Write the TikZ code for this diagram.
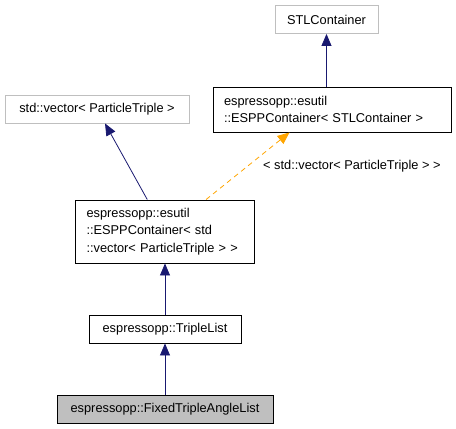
\documentclass[tikz,border=0pt]{standalone}
\usepackage{fontspec}
\setmainfont{Liberation Sans}
\usetikzlibrary{arrows.meta,calc}
\definecolor{navyarr}{HTML}{191970}
\definecolor{grayb}{HTML}{BFBFBF}
\definecolor{orangearr}{HTML}{FFA500}
\tikzset{
  box/.style={draw=black, line width=0.9pt, inner sep=0pt, font=\fontsize{12.8}{17.3}\selectfont},
  graybox/.style={box, draw=grayb},
  inh/.style={draw=navyarr, line width=0.8pt, -{Triangle[length=12pt,width=10pt]}},
  tmpl/.style={draw=orangearr, line width=0.8pt, dash pattern=on 5pt off 4pt, -{Triangle[length=12pt,width=10pt]}},
}
\begin{document}
\begin{tikzpicture}[x=1pt,y=-1pt]
\useasboundingbox (0,0) rectangle (456,429);
\node[graybox, minimum width=103pt, minimum height=28pt] (stl) at (326.5,19.5) {STLContainer};
\node[box, minimum height=45pt, text width=216pt, align=left, inner xsep=11pt] (espp1) at (332,109.5) {espressopp::esutil\\::ESPPContainer< STLContainer >};
\node[graybox, minimum width=184pt, minimum height=28pt] (vec) at (97,109) {std::vector< ParticleTriple >};
\node[box, minimum height=63pt, text width=157pt, align=left, inner xsep=11pt] (espp2) at (165,231.5) {espressopp::esutil\\::ESPPContainer< std\\::vector< ParticleTriple > >};
\node[box, minimum width=152pt, minimum height=28pt] (tl) at (165,329) {espressopp::TripleList};
\node[box, fill=grayb, minimum width=216pt, minimum height=28pt] (ftal) at (165,409) {espressopp::FixedTripleAngleList};
\draw[inh] (espp1.north -| stl) -- (stl);
\draw[inh] (espp2) -- (vec);
\draw[inh] (tl) -- (espp2);
\draw[inh] (ftal) -- (tl);
\draw[tmpl] ($(espp2.north west)+(131,0)$) -- ($(espp1.south west)+(77,0)$);
\node[anchor=west, font=\fontsize{12.8}{14}\selectfont, inner sep=0pt] (lbl) at (263,166) {< std::vector< ParticleTriple > >};
\end{tikzpicture}
\end{document}
